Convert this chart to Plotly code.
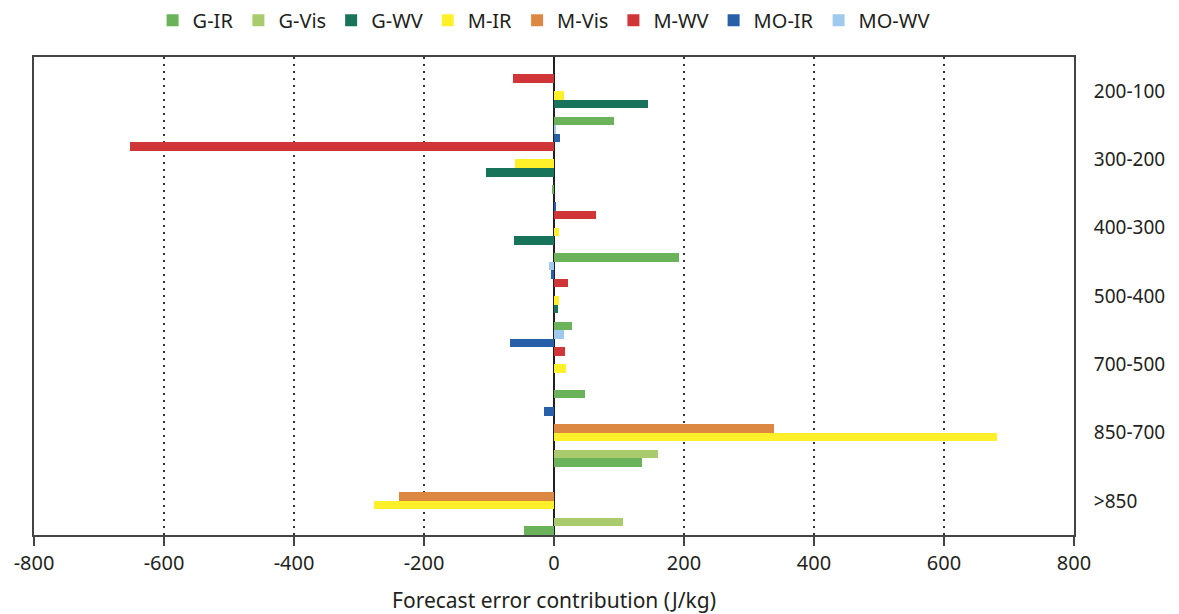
import plotly.graph_objects as go

categories = ["200-100", "300-200", "400-300", "500-400", "700-500", "850-700", ">850"]

series_names = ["G-IR", "G-Vis", "G-WV", "M-IR", "M-Vis", "M-WV", "MO-IR", "MO-WV"]
colors = ["#6ab35a", "#a9cb6e", "#17735a", "#fff02a", "#dd8842", "#d03538", "#2760a8", "#9fcaee"]

g_ir = [93, -2, 192, 28, 48, 136, -46]
g_vis = [0, 0, 0, 0, 0, 160, 106]
g_wv = [145, -104, -61, 6, 0, 0, 0]
m_ir = [15, -60, 7.5, 7, 18.5, 682, -277]
m_vis = [0, 0, 0, 0, 0, 339, -239]
m_wv = [-63, -653, 65, 22, 17.5, 0, 0]
mo_ir = [0, 9, 2, -4, -68, -16, 0]
mo_wv = [0, 3, 0, -8, 15, 0, 0]

values = [g_ir, g_vis, g_wv, m_ir, m_vis, m_wv, mo_ir, mo_wv]

x_ticks = [-800, -600, -400, -200, 0, 200, 400, 600, 800]

FONT = "Noto Sans, Arial, sans-serif"

fig = go.Figure()
for name, col, vals in zip(series_names, colors, values):
    fig.add_trace(go.Bar(
        y=categories, x=vals, name=name, orientation="h",
        marker=dict(color=col, line=dict(width=0)),
    ))

fig.update_layout(
    width=1171, height=606,
    margin=dict(l=26, r=105, t=49, b=79, autoexpand=False),
    paper_bgcolor="white", plot_bgcolor="white",
    barmode="group", bargap=0, bargroupgap=0,
    font=dict(family=FONT, size=18, color="#231f20"),
    legend=dict(orientation="h", x=0.49, xanchor="center", y=1.077, yanchor="middle",
                font=dict(size=20), traceorder="normal", itemwidth=30),
    xaxis=dict(
        range=[-800, 800], tickvals=x_ticks, ticktext=[str(v) for v in x_ticks],
        showgrid=True, gridcolor="#333333", gridwidth=1.5, griddash="2px,5px",
        zeroline=True, zerolinecolor="#231f20", zerolinewidth=2,
        showline=True, linecolor="#444444", linewidth=2, mirror=True,
        ticks="outside", ticklen=9, tickcolor="#444444", tickwidth=1.5,
        title=dict(text="Forecast error contribution (J/kg)", font=dict(size=21), standoff=18),
        tickfont=dict(size=20), automargin=False,
    ),
    yaxis=dict(
        categoryorder="array", categoryarray=categories[::-1],
        side="right", showgrid=False, zeroline=False,
        showline=True, linecolor="#444444", linewidth=2, mirror=True,
        ticks="", ticklabelstandoff=14, tickfont=dict(size=19), automargin=False,
    ),
)

fig.write_html("out.html")
